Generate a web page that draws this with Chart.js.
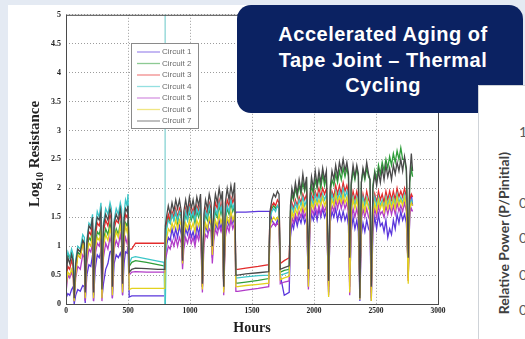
<!DOCTYPE html>
<html>
<head>
<meta charset="utf-8">
<script src="https://cdn.jsdelivr.net/npm/chart.js@4.4.1/dist/chart.umd.min.js"></script>
<style>
  html, body { margin: 0; padding: 0; }
  body {
    width: 525px; height: 339px; overflow: hidden; position: relative;
    background: #e4eaf3;
    font-family: "Liberation Sans", Arial, sans-serif;
  }
  #sheet { position: absolute; left: 8px; top: 5px; width: 470px; height: 334px; background: #fff; }
  #sheet canvas { display: block; }
  #banner {
    position: absolute; left: 237px; top: 5px; width: 286px; height: 108px;
    box-sizing: border-box; padding: 17px 0 0 6px;
    background: #0b2262; border-radius: 14px;
    color: #fff; font: bold 20px "Liberation Sans", Arial, sans-serif;
    letter-spacing: 0.5px; line-height: 25.5px; text-align: center;
  }
  #side {
    position: absolute; left: 478px; top: 85px; width: 60px; height: 270px;
    background: #fff; border-left: 1px solid #cfd3d8; border-top: 1px solid #cfd3d8;
  }
  .tk { position: absolute; left: 40px; font: 14px Lato, "Open Sans", sans-serif; line-height: 16px; color: #595959; }
  #sideTitle {
    position: absolute; left: 24px; top: 66px; white-space: nowrap;
    transform-origin: 0 0; transform: rotate(-90deg) translate(-100%, -50%);
    font: bold 14px Lato, "Open Sans", sans-serif; color: #404040;
  }
</style>
</head>
<body>
<div id="sheet"><canvas id="chart" width="470" height="334"></canvas></div>
<div id="banner">
  <div>Accelerated Aging of</div>
  <div>Tape Joint – Thermal</div>
  <div>Cycling</div>
</div>
<div id="side">
  <div class="tk" style="top:38px">1</div>
  <div class="tk" style="top:109px">0</div>
  <div class="tk" style="top:144px">0</div>
  <div class="tk" style="top:181px">0</div>
  <div class="tk" style="top:216px">0</div>
  <div id="sideTitle">Relative Power (P/Pinitial)</div>
</div>

<script>
'use strict';

/* ── data ─────────────────────────────────────────── */
const circuits = ['Circuit 1', 'Circuit 2', 'Circuit 3', 'Circuit 4', 'Circuit 5', 'Circuit 6', 'Circuit 7'];

const hours = [
  // cycling 0-500
  0, 15, 30, 45, 58, 66, 78, 95, 115, 135, 148, 155, 168, 185, 200, 214, 222, 235, 252, 268,
  282, 290, 302, 320, 338, 355, 366, 374, 388, 405, 422, 438, 448, 456, 468, 480, 492, 500,
  // idle
  510, 530, 560, 650, 740, 790, 797,
  800, 801,
  // cycling 800-1370
  810, 825, 840, 855, 870, 885, 900, 915, 930, 940, 950, 965, 980, 995, 1010, 1025, 1040, 1055,
  1070, 1085, 1100, 1112, 1125, 1140, 1155, 1170, 1180, 1192, 1205, 1220, 1235, 1250, 1262,
  1272, 1285, 1300, 1315, 1330, 1345, 1360, 1370,
  // idle
  1385, 1450, 1550, 1635,
  1645, 1660, 1675, 1690, 1705, 1718,
  1728, 1760, 1800,
  // cycling 1810-2800
  1810, 1822, 1835, 1850, 1865, 1880, 1895, 1910, 1925, 1940, 1955, 1968, 1980, 1995, 2010,
  2025, 2040, 2055, 2070, 2085, 2100, 2118, 2130, 2145, 2160, 2175, 2190, 2205, 2220, 2235,
  2250, 2265, 2278, 2288, 2300, 2315, 2330, 2345, 2358, 2370, 2382, 2395, 2410, 2425, 2440,
  2452, 2462, 2475, 2490, 2505, 2520, 2535, 2550, 2565, 2580, 2595, 2610, 2625, 2640, 2655,
  2670, 2685, 2700, 2715, 2730, 2745, 2760, 2772, 2785, 2795
];

const circuit1 = [
  0.1, 0.18, 0.15, 0.25, 0.3, 0.0, 0.15, 0.25, 0.22, 0.32, 0.3, 0.02, 0.5, 0.68, 0.65, 0.85, 0.05, 0.6, 0.85, 0.8,
  0.92, 0.1, 0.35, 0.6, 0.7, 0.9, 0.92, 0.1, 0.7, 0.85, 0.8, 0.88, 0.8, 0.15, 0.7, 0.9, 0.88, 1.0,
  0.12, 0.14, 0.14, 0.14, 0.14, 0.14, 0.14,
  0.8, 0.85,
  1.0, 1.15, 1.1, 1.3, 1.15, 1.3, 1.15, 1.35, 1.2, 0.7, 1.1, 1.3, 1.2, 1.35, 1.15, 1.25, 1.1, 1.35,
  1.2, 1.4, 0.3, 1.15, 1.35, 1.25, 1.45, 1.35, 0.8, 1.2, 1.4, 1.3, 1.45, 1.3, 1.45,
  0.3, 1.25, 1.45, 1.35, 1.55, 1.4, 1.5, 1.59,
  1.59, 1.59, 1.6, 1.6,
  1.6, 1.45, 1.4, 1.35, 1.45, 1.4,
  0.5, 0.15, 0.2,
  1.15, 1.4, 1.3, 1.5, 1.35, 1.5, 1.4, 1.55, 1.4, 1.5, 0.3, 1.35, 1.55, 1.45, 1.6,
  1.45, 1.65, 1.5, 1.65, 1.5, 1.6, 0.2, 1.4, 1.6, 1.5, 1.65, 1.45, 1.6, 1.45, 1.6,
  1.45, 1.55, 1.35, 0.3, 1.25, 1.5, 1.3, 1.45, 1.25, 0.05, 1.2, 1.4, 1.25, 1.45, 1.3,
  1.25, 0.05, 1.25, 1.5, 1.3, 1.55, 1.35, 1.4, 1.25, 1.45, 1.15, 1.3, 1.2, 1.45, 1.3,
  1.55, 1.4, 1.6, 1.45, 1.55, 1.4, 0.6, 1.5, 1.9, 1.7
];

const circuit2 = [
  0.6, 0.85, 0.8, 0.9, 0.7, 0.1, 0.55, 0.9, 0.85, 1.1, 1.0, 0.2, 0.9, 1.15, 1.1, 1.3, 0.15, 1.0, 1.25, 1.2,
  1.35, 0.2, 1.1, 1.3, 1.2, 1.4, 1.25, 0.25, 1.15, 1.3, 1.2, 1.4, 1.25, 0.3, 1.2, 1.4, 1.35, 1.45,
  0.65, 0.72, 0.75, 0.72, 0.68, 0.66, 0.66,
  1.1, 1.15,
  1.3, 1.5, 1.4, 1.55, 1.45, 1.6, 1.4, 1.6, 1.5, 0.75, 1.35, 1.55, 1.45, 1.6, 1.45, 1.55, 1.4, 1.6,
  1.5, 1.65, 0.3, 1.35, 1.55, 1.45, 1.65, 1.5, 0.95, 1.4, 1.6, 1.5, 1.7, 1.55, 1.7,
  0.25, 1.45, 1.65, 1.55, 1.75, 1.6, 1.7, 0.36,
  0.36, 0.38, 0.41, 0.44,
  1.5, 1.65, 1.7, 1.65, 1.7, 1.65,
  0.55, 0.58, 0.6,
  1.6, 1.9, 1.8, 2.0, 1.85, 2.05, 1.9, 2.1, 1.95, 2.1, 0.5, 1.8, 2.05, 1.9, 2.15,
  2.0, 2.2, 2.0, 2.25, 2.05, 2.2, 0.35, 1.9, 2.15, 2.05, 2.25, 2.1, 2.3, 2.15, 2.35,
  2.2, 2.35, 2.2, 0.7, 2.05, 2.3, 2.15, 2.35, 2.2, 0.15, 2.1, 2.3, 2.15, 2.35, 2.2,
  2.15, 0.25, 2.05, 2.3, 2.15, 2.4, 2.25, 2.45, 2.3, 2.5, 2.35, 2.55, 2.4, 2.6, 2.45,
  2.65, 2.5, 2.7, 2.5, 2.5, 2.3, 0.6, 2.1, 2.35, 2.2
];

const circuit3 = [
  0.4, 0.65, 0.6, 0.75, 0.65, 0.15, 0.6, 0.85, 0.8, 1.05, 1.0, 0.25, 1.0, 1.25, 1.2, 1.4, 0.25, 1.15, 1.4, 1.35,
  1.5, 0.3, 1.25, 1.45, 1.35, 1.55, 1.45, 0.3, 1.3, 1.45, 1.4, 1.55, 1.4, 0.4, 1.35, 1.55, 1.5, 1.6,
  0.95, 0.95, 1.05, 1.05, 1.05, 1.05, 1.05,
  1.2, 1.25,
  1.4, 1.55, 1.45, 1.6, 1.5, 1.65, 1.5, 1.65, 1.55, 0.8, 1.45, 1.65, 1.5, 1.7, 1.55, 1.65, 1.5, 1.7,
  1.6, 1.75, 0.3, 1.4, 1.65, 1.55, 1.75, 1.65, 1.0, 1.5, 1.75, 1.65, 1.8, 1.65, 1.8,
  0.3, 1.55, 1.8, 1.7, 1.85, 1.75, 1.85, 0.6,
  0.6, 0.62, 0.65, 0.68,
  1.55, 1.7, 1.75, 1.7, 1.8, 1.75,
  0.7, 0.75, 0.8,
  1.5, 1.75, 1.65, 1.8, 1.7, 1.85, 1.75, 1.9, 1.8, 1.9, 0.45, 1.7, 1.9, 1.8, 1.95,
  1.85, 2.0, 1.85, 2.0, 1.9, 2.0, 0.3, 1.75, 1.95, 1.85, 2.05, 1.9, 2.05, 1.9, 2.1,
  1.95, 2.05, 1.9, 0.5, 1.75, 1.95, 1.8, 1.95, 1.8, 0.2, 1.7, 1.9, 1.75, 1.95, 1.8,
  1.75, 0.2, 1.7, 1.9, 1.75, 1.95, 1.8, 1.9, 1.75, 1.95, 1.8, 1.95, 1.8, 1.95, 1.8,
  2.0, 1.85, 1.95, 1.85, 2.0, 1.85, 0.4, 1.8, 1.9, 1.85
];

const circuit4 = [
  0.7, 0.9, 0.8, 0.95, 0.85, 0.2, 0.75, 1.0, 0.95, 1.2, 1.15, 0.3, 1.1, 1.4, 1.35, 1.55, 0.3, 1.3, 1.6, 1.5,
  1.75, 0.35, 1.4, 1.65, 1.55, 1.75, 1.65, 0.4, 1.45, 1.65, 1.55, 1.75, 1.65, 0.45, 1.55, 1.8, 1.7, 1.9,
  0.7, 0.8, 0.82, 0.78, 0.74, 0.72, 0.0,
  5.5, 0.0,
  1.3, 1.45, 1.4, 1.55, 1.45, 1.6, 1.45, 1.6, 1.55, 0.8, 1.4, 1.6, 1.45, 1.65, 1.5, 1.6, 1.45, 1.65,
  1.55, 1.7, 0.35, 1.4, 1.6, 1.5, 1.7, 1.55, 1.0, 1.45, 1.65, 1.55, 1.75, 1.6, 1.75,
  0.3, 1.5, 1.7, 1.6, 1.8, 1.65, 1.75, 0.45,
  0.45, 0.47, 0.49, 0.5,
  1.5, 1.6, 1.65, 1.6, 1.7, 1.65,
  0.5, 0.52, 0.55,
  1.45, 1.7, 1.6, 1.75, 1.65, 1.8, 1.7, 1.85, 1.7, 1.8, 0.5, 1.65, 1.85, 1.7, 1.9,
  1.75, 1.9, 1.75, 1.9, 1.8, 1.9, 0.35, 1.7, 1.9, 1.75, 1.95, 1.8, 1.95, 1.8, 2.0,
  1.85, 1.95, 1.8, 0.6, 1.65, 1.85, 1.7, 1.85, 1.7, 0.25, 1.65, 1.85, 1.7, 1.85, 1.7,
  1.65, 0.3, 1.65, 1.85, 1.7, 1.85, 1.7, 1.8, 1.65, 1.85, 1.7, 1.85, 1.7, 1.85, 1.7,
  1.9, 1.75, 1.85, 1.75, 1.9, 1.75, 0.5, 1.7, 1.8, 1.75
];

const circuit5 = [
  0.2, 0.5, 0.45, 0.55, 0.45, 0.05, 0.45, 0.65, 0.6, 0.85, 0.8, 0.05, 0.7, 0.95, 0.9, 1.05, 0.05, 0.85, 1.05, 1.0,
  1.15, 0.05, 0.8, 1.05, 0.95, 1.15, 1.05, 0.1, 0.95, 1.1, 1.0, 1.2, 1.05, 0.15, 1.0, 1.15, 1.05, 1.15,
  0.5, 0.55, 0.56, 0.55, 0.55, 0.55, 0.55,
  0.7, 0.75,
  0.85, 1.0, 0.95, 1.1, 1.0, 1.15, 1.0, 1.15, 1.05, 0.6, 0.95, 1.15, 1.05, 1.2, 1.05, 1.15, 1.0, 1.2,
  1.1, 1.25, 0.2, 1.0, 1.2, 1.15, 1.3, 1.25, 0.7, 1.1, 1.3, 1.2, 1.35, 1.25, 1.35,
  0.15, 1.15, 1.35, 1.25, 1.45, 1.3, 1.4, 0.22,
  0.22, 0.24, 0.27, 0.3,
  1.3, 1.35, 1.4, 1.35, 1.4, 1.35,
  0.35, 0.38, 0.4,
  1.25, 1.5, 1.4, 1.55, 1.45, 1.6, 1.5, 1.65, 1.5, 1.6, 0.25, 1.45, 1.65, 1.55, 1.7,
  1.55, 1.7, 1.55, 1.7, 1.6, 1.7, 0.15, 1.5, 1.7, 1.6, 1.8, 1.65, 1.8, 1.65, 1.8,
  1.65, 1.75, 1.55, 0.15, 1.45, 1.65, 1.5, 1.65, 1.5, 0.15, 1.45, 1.65, 1.5, 1.65, 1.5,
  1.45, 0.1, 1.45, 1.65, 1.5, 1.7, 1.55, 1.6, 1.5, 1.7, 1.55, 1.7, 1.55, 1.7, 1.55,
  1.75, 1.6, 1.7, 1.6, 1.75, 1.6, 0.45, 1.55, 1.65, 1.6
];

const circuit6 = [
  0.3, 0.55, 0.5, 0.6, 0.5, 0.05, 0.5, 0.85, 0.8, 1.05, 0.95, 0.1, 0.85, 1.05, 1.0, 1.2, 0.1, 0.95, 1.15, 1.1,
  1.25, 0.1, 1.0, 1.2, 1.1, 1.3, 1.2, 0.15, 1.05, 1.25, 1.15, 1.35, 1.2, 0.2, 1.15, 1.35, 1.25, 1.35,
  0.25, 0.27, 0.27, 0.27, 0.27, 0.27, 0.27,
  0.9, 0.95,
  1.1, 1.3, 1.25, 1.4, 1.3, 1.45, 1.3, 1.45, 1.35, 0.7, 1.2, 1.4, 1.3, 1.45, 1.3, 1.4, 1.25, 1.45,
  1.35, 1.5, 0.25, 1.2, 1.4, 1.3, 1.5, 1.4, 0.85, 1.25, 1.45, 1.35, 1.55, 1.4, 1.5,
  0.2, 1.3, 1.5, 1.4, 1.6, 1.45, 1.55, 0.3,
  0.3, 0.32, 0.34, 0.36,
  1.35, 1.45, 1.5, 1.45, 1.5, 1.45,
  0.42, 0.45, 0.48,
  1.35, 1.6, 1.5, 1.65, 1.55, 1.7, 1.6, 1.75, 1.6, 1.7, 0.3, 1.55, 1.75, 1.65, 1.8,
  1.7, 1.8, 1.7, 1.85, 1.7, 1.8, 0.12, 1.6, 1.8, 1.7, 1.9, 1.75, 1.85, 1.75, 1.9,
  1.75, 1.85, 1.65, 0.2, 1.6, 1.8, 1.65, 1.8, 1.65, 0.08, 1.55, 1.75, 1.6, 1.8, 1.65,
  1.6, 0.05, 1.55, 1.75, 1.6, 1.8, 1.65, 1.75, 1.6, 1.8, 1.65, 1.8, 1.65, 1.8, 1.65,
  1.85, 1.7, 1.8, 1.7, 1.85, 1.7, 0.35, 1.65, 1.75, 1.7
];

const circuit7 = [
  0.5, 0.8, 0.7, 0.85, 0.75, 0.1, 0.7, 0.95, 0.9, 1.1, 1.05, 0.2, 1.05, 1.35, 1.3, 1.5, 0.2, 1.25, 1.5, 1.45,
  1.6, 0.25, 1.35, 1.55, 1.45, 1.65, 1.55, 0.3, 1.4, 1.55, 1.45, 1.65, 1.5, 0.35, 1.45, 1.65, 1.6, 1.7,
  0.55, 0.6, 0.62, 0.61, 0.6, 0.6, 0.6,
  1.3, 1.35,
  1.5, 1.7, 1.55, 1.75, 1.6, 1.8, 1.65, 1.8, 1.6, 0.75, 1.6, 1.8, 1.6, 1.85, 1.65, 1.8, 1.6, 1.85,
  1.7, 1.9, 0.35, 1.55, 1.8, 1.65, 1.9, 1.75, 1.0, 1.65, 1.9, 1.75, 2.0, 1.8, 1.95,
  0.3, 1.75, 2.0, 1.8, 2.05, 1.85, 2.1, 0.5,
  0.5, 0.52, 0.54, 0.56,
  1.6, 1.8, 1.9, 1.85, 1.95, 1.9,
  0.6, 0.63, 0.66,
  1.7, 2.0, 1.85, 2.1, 1.9, 2.15, 1.95, 2.25, 2.0, 2.2, 0.6, 1.9, 2.2, 2.0, 2.3,
  2.05, 2.3, 2.1, 2.35, 2.15, 2.3, 0.4, 2.0, 2.3, 2.15, 2.4, 2.2, 2.45, 2.3, 2.5,
  2.3, 2.45, 2.25, 0.8, 2.1, 2.4, 2.2, 2.4, 2.25, 0.1, 2.1, 2.35, 2.2, 2.45, 2.25,
  2.15, 0.3, 2.0, 2.25, 2.05, 2.3, 2.1, 2.35, 2.15, 2.4, 2.2, 2.35, 2.15, 2.4, 2.25,
  2.45, 2.3, 2.5, 2.3, 2.55, 2.35, 0.8, 2.2, 2.6, 2.3
];

const seriesValues = [circuit1, circuit2, circuit3, circuit4, circuit5, circuit6, circuit7];

const xTickValues = [0, 500, 1000, 1500, 2000, 2500, 3000];
const xTickLabels = ['0', '500', '1000', '1500', '2000', '2500', '3000'];
const yTickValues = [0, 0.5, 1, 1.5, 2, 2.5, 3, 3.5, 4, 4.5, 5];
const yTickLabels = ['0', '0.5', '1', '1.5', '2', '2.5', '3', '3.5', '4', '4.5', '5'];

/* ── styles ───────────────────────────────────────── */
const lineColors = ['#5a36dc', '#2f9e3a', '#e32c2c', '#3cc6c8', '#b23cc8', '#e3d21e', '#4a4a4a'];
const spikeColor = '#9fdcdc';
const serif = '"Liberation Serif", "DejaVu Serif", serif';

/* ── frame, in-axes legend, y title ───────────────── */
const decorations = {
  id: 'decorations',
  afterDraw(chart) {
    const { ctx, chartArea: a } = chart;
    ctx.save();

    ctx.strokeStyle = '#4a4a4a';
    ctx.lineWidth = 1;
    ctx.strokeRect(a.left + 0.5, a.top + 0.5, a.right - a.left, a.bottom - a.top);

    const bx = 123, by = 38, bw = 67, bh = 85;
    ctx.fillStyle = '#fff';
    ctx.fillRect(bx, by, bw, bh);
    ctx.strokeStyle = '#8a8a8a';
    ctx.strokeRect(bx + 0.5, by + 0.5, bw, bh);
    ctx.font = '8px "Liberation Sans", Arial, sans-serif';
    ctx.textBaseline = 'middle';
    chart.data.datasets.forEach((ds, i) => {
      const y = by + 9 + i * 11.5;
      ctx.globalAlpha = 0.55;
      ctx.strokeStyle = ds.borderColor;
      ctx.lineWidth = 1.3;
      ctx.beginPath(); ctx.moveTo(bx + 6, y); ctx.lineTo(bx + 29, y); ctx.stroke();
      ctx.globalAlpha = 1;
      ctx.fillStyle = '#6a6a6a';
      ctx.fillText(ds.label, bx + 31, y);
    });

    // Log10 Resistance, with a lowered "10"
    ctx.translate(26, 149);
    ctx.rotate(-Math.PI / 2);
    ctx.fillStyle = '#222';
    ctx.textBaseline = 'alphabetic';
    const big = 'bold 15px ' + serif, small = 'bold 10px ' + serif;
    ctx.font = big;   const w1 = ctx.measureText('Log').width, w3 = ctx.measureText(' Resistance').width;
    ctx.font = small; const w2 = ctx.measureText('10').width;
    let x = -(w1 + w2 + w3) / 2;
    ctx.font = big;   ctx.fillText('Log', x, 5);          x += w1;
    ctx.font = small; ctx.fillText('10', x, 9);           x += w2;
    ctx.font = big;   ctx.fillText(' Resistance', x, 5);

    ctx.restore();
  }
};

/* ── chart ────────────────────────────────────────── */
const datasets = circuits.map((name, i) => ({
  label: name,
  data: hours.map((h, j) => ({ x: h, y: seriesValues[i][j] })),
  borderColor: lineColors[i],
  borderWidth: 1.3,
  pointRadius: 0,
  tension: 0,
  order: 6 - i,
  segment: {
    borderColor: c => (c.p0.parsed.y > 3 || c.p1.parsed.y > 3) ? spikeColor : undefined,
    borderWidth: c => (c.p0.parsed.y > 3 || c.p1.parsed.y > 3) ? 0.8 : undefined
  }
}));

new Chart(document.getElementById('chart'), {
  type: 'line',
  data: { datasets },
  options: {
    responsive: false,
    animation: false,
    devicePixelRatio: 1,
    layout: { padding: { left: 0, top: 6, right: 40, bottom: 0 } },
    plugins: { legend: { display: false }, tooltip: { enabled: false } },
    scales: {
      x: {
        type: 'linear', min: 0, max: 3000,
        afterBuildTicks: s => { s.ticks = xTickValues.map(v => ({ value: v })); },
        afterFit: s => { s.height = 35; },
        ticks: { autoSkip: false, maxRotation: 0, padding: 3, color: '#222',
                 font: { family: serif, size: 7.5, weight: 'bold' },
                 callback: (v, i) => xTickLabels[i] },
        grid: { color: '#9c9c9c', drawTicks: false },
        border: { display: false, dash: [1, 2] },
        title: { display: true, text: 'Hours', color: '#1e1e1e',
                 font: { family: serif, size: 14, weight: 'bold' }, padding: { top: 0, bottom: 2 } }
      },
      y: {
        min: 0, max: 5,
        afterBuildTicks: s => { s.ticks = yTickValues.map(v => ({ value: v })); },
        afterFit: s => { s.width = 58; },
        ticks: { autoSkip: false, padding: 5, color: '#222',
                 font: { family: serif, size: 8, weight: 'bold' },
                 callback: (v, i) => yTickLabels[i] },
        grid: { color: '#9c9c9c', drawTicks: false },
        border: { display: false, dash: [1, 2] }
      }
    }
  },
  plugins: [decorations]
});
</script>
</body>
</html>
